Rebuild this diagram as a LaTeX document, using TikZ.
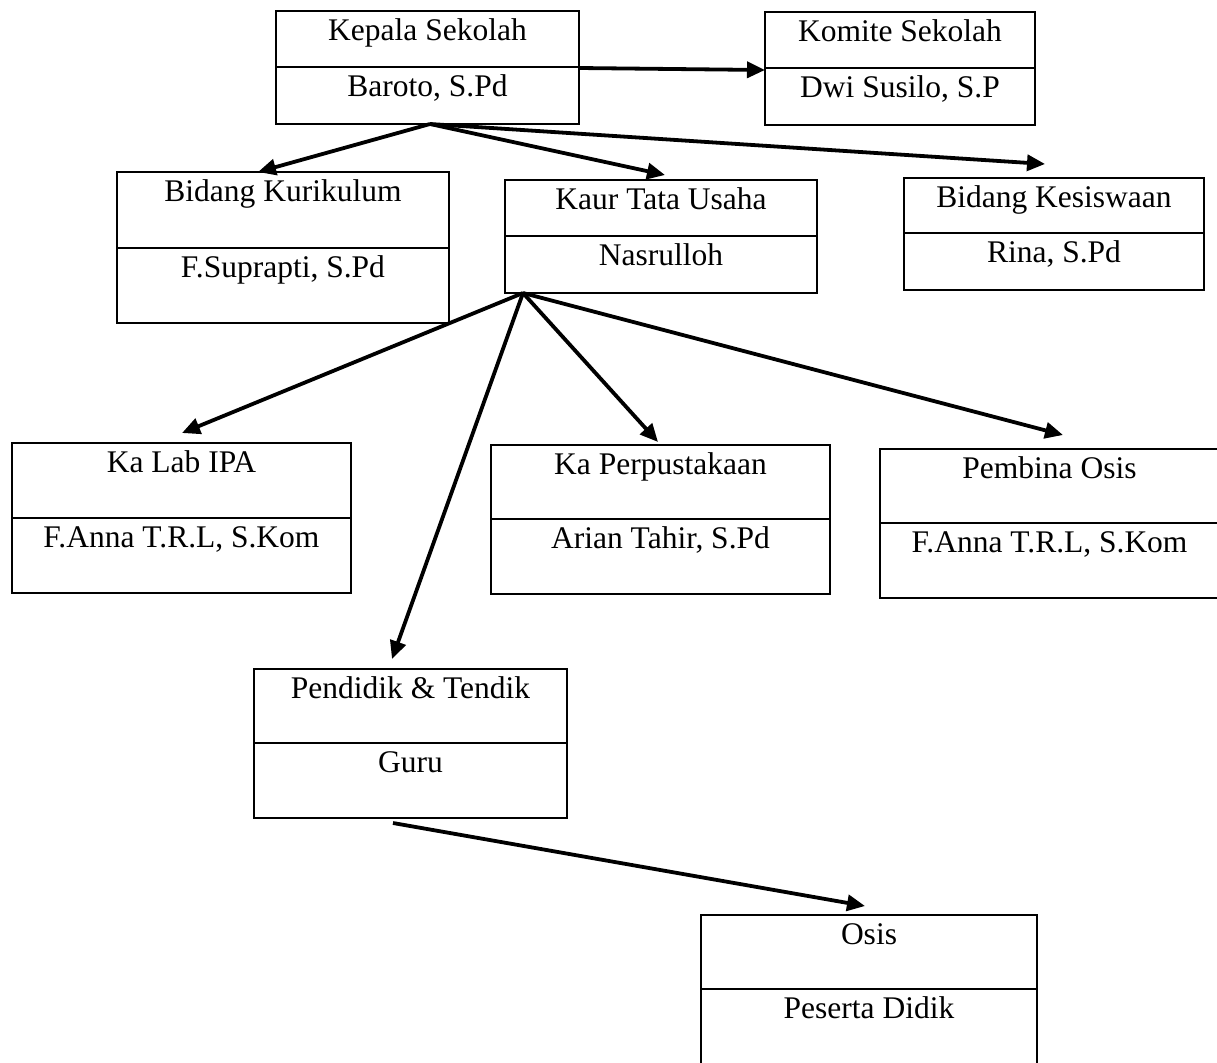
\documentclass[tikz,border=0pt]{standalone}
\usepackage{fontspec}
\setmainfont{Liberation Serif}
\usetikzlibrary{arrows.meta}
\tikzset{
  orgframe/.style={draw, line width=2.7pt, inner sep=0pt, outer sep=0pt},
  orgline/.style={line width=2.7pt},
  orgtext/.style={anchor=base, inner sep=0pt, font=\fontsize{31.5}{37}\selectfont},
  orgarrow/.style={line width=3.8pt, -{Triangle[length=18pt,width=16pt]}}
}
% #1 name, #2 left, #3 top, #4 right, #5 bottom, #6 divider, #7 title, #8 subtitle
\newcommand\orgbox[8]{%
  \node[orgframe, minimum width={#4pt-#2pt}, minimum height={#5pt-#3pt}] (#1) at ({(#2+#4)/2},{(#3+#5)/2}) {};
  \draw[orgline] (#2,#6) -- (#4,#6);
  \node[orgtext] (#1t) at ({(#2+#4)/2},{#3+29.5}) {#7};
  \node[orgtext] (#1s) at ({(#2+#4)/2},{#6+29.5}) {#8};
}
\begin{document}
\begin{tikzpicture}[x=1pt,y=-1pt]
\useasboundingbox (0,0) rectangle (1217,1062);
\orgbox{kepala}{276}{11}{579}{124}{67}{Kepala Sekolah}{Baroto, S.Pd}
\orgbox{komite}{765}{12}{1035}{125}{68}{Komite Sekolah}{Dwi Susilo, S.P}
\orgbox{kurikulum}{117}{172}{449}{323}{248}{Bidang Kurikulum}{F.Suprapti, S.Pd}
\orgbox{kaur}{505}{180}{817}{293}{236}{Kaur Tata Usaha}{Nasrulloh}
\orgbox{kesiswaan}{904}{178}{1204}{290}{233}{Bidang Kesiswaan}{Rina, S.Pd}
\orgbox{lab}{12}{443}{351}{593}{518}{Ka Lab IPA}{F.Anna T.R.L, S.Kom}
\orgbox{perpus}{491}{445}{830}{594}{519}{Ka Perpustakaan}{Arian Tahir, S.Pd}
\orgbox{pembina}{880}{449}{1219}{598}{523}{Pembina Osis}{F.Anna T.R.L, S.Kom}
\orgbox{pendidik}{254}{669}{567}{818}{743}{Pendidik \& Tendik}{Guru}
\orgbox{osis}{701}{915}{1037}{1066}{989}{Osis}{Peserta Didik}

% connector end points
\coordinate (kepalaR) at (579,68);
\coordinate (komiteL) at (765,70);
\coordinate (kepalaB) at (430,124);
\coordinate (kurikulumIn) at (258,172);
\coordinate (kaurIn) at (665,175);
\coordinate (kesiswaanIn) at (1045,164);
\coordinate (kaurB) at (523,293);
\coordinate (labIn) at (182,433);
\coordinate (perpusIn) at (658,442);
\coordinate (pembinaIn) at (1063,435);
\coordinate (pendidikIn) at (392,659);
\coordinate (pendidikB) at (393,823);
\coordinate (osisIn) at (865,906);

\draw[orgarrow] (kepalaR) -- (komiteL);
\draw[orgarrow] (kepalaB) -- (kurikulumIn);
\draw[orgarrow] (kepalaB) -- (kaurIn);
\draw[orgarrow] (kepalaB) -- (kesiswaanIn);
\draw[orgarrow] (kaurB) -- (labIn);
\draw[orgarrow] (kaurB) -- (perpusIn);
\draw[orgarrow] (kaurB) -- (pembinaIn);
\draw[orgarrow] (kaurB) -- (pendidikIn);
\draw[orgarrow] (pendidikB) -- (osisIn);
\end{tikzpicture}
\end{document}
